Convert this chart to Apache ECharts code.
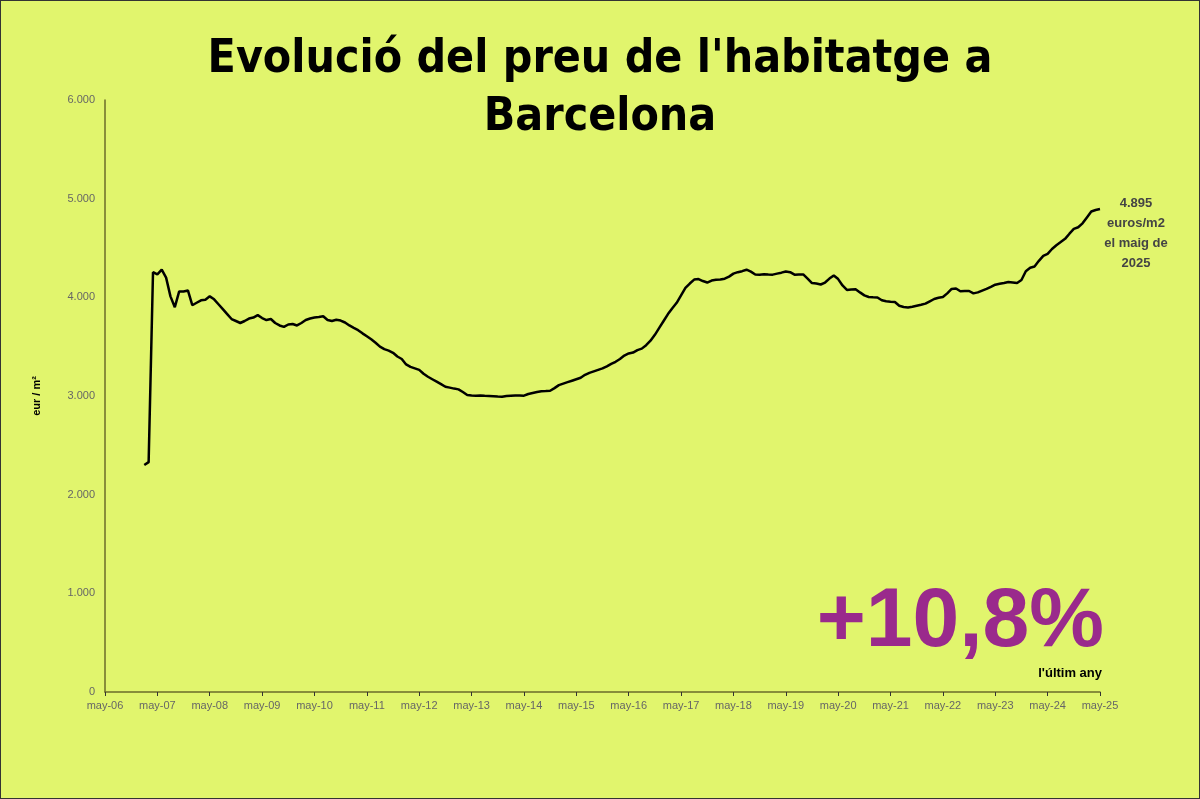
<!DOCTYPE html>
<html><head><meta charset="utf-8">
<script src="https://cdn.jsdelivr.net/npm/echarts@6/dist/echarts.min.js"></script>
<style>html,body{margin:0;padding:0;background:#e1f56d}#c{width:1200px;height:799px;box-sizing:border-box;border:1px solid #333}</style>
</head><body><div id="c"></div>
<script>
const months = [];
for (let y = 2006; y <= 2025; y++) {
  const yy = String(y).slice(2);
  ['jan','feb','mar','apr','may','jun','jul','aug','sep','oct','nov','dec'].forEach((m, i) => {
    if ((y === 2006 && i < 4) || (y === 2025 && i > 4)) return;
    months.push(m + '-' + yy);
  });
}
const prices = [null,null,null,null,null,null,null,null,null,
2300,2330,4255,4232,4280,4200,4010,3900,4060,4060,4070,3920,3945,3970,3975,4010,3980,3930,3880,3830,3780,
3760,3740,3760,3785,3795,3820,3790,3770,3780,3740,3715,3700,3725,3730,3715,3740,3770,3785,3795,3800,
3808,3770,3760,3772,3765,3745,3715,3690,3667,3635,3605,3575,3540,3500,3475,3460,3438,3400,3375,3320,
3295,3280,3265,3225,3195,3170,3145,3120,3094,3085,3075,3067,3040,3010,3005,3003,3005,3002,3000,2998,
2995,2993,3000,3003,3005,3005,3003,3020,3030,3040,3048,3050,3053,3080,3110,3125,3140,3155,3170,3185,
3215,3235,3250,3265,3280,3300,3325,3347,3375,3410,3431,3440,3465,3480,3515,3560,3620,3690,3760,3830,
3890,3945,4020,4095,4140,4180,4185,4165,4150,4170,4178,4180,4189,4210,4240,4255,4265,4280,4260,4232,
4230,4235,4232,4230,4240,4250,4262,4255,4230,4232,4232,4190,4145,4140,4130,4150,4190,4222,4185,4120,
4075,4080,4081,4050,4020,4003,4000,3998,3970,3960,3955,3953,3915,3902,3898,3905,3915,3925,3936,3960,
3983,3995,4003,4040,4085,4090,4062,4063,4064,4040,4050,4068,4085,4105,4128,4138,4145,4155,4150,4145,
4175,4265,4300,4313,4370,4420,4440,4490,4528,4560,4593,4645,4693,4710,4750,4810,4870,4885,4895];
const yTicks = ['0','1.000','2.000','3.000','4.000','5.000','6.000'];
const titleLines = ["Evolució del preu de l'habitatge a", 'Barcelona'];
const noteLines = ['4.895', 'euros/m2', 'el maig de', '2025'];
const chart = echarts.init(document.getElementById('c'));
chart.setOption({
  backgroundColor: '#e1f56d',
  animation: false,
  grid: {left: 104, right: 99, top: 99, bottom: 106},
  xAxis: {
    type: 'category', data: months, boundaryGap: false,
    axisLine: {lineStyle: {color: '#6b6b2a', width: 1.5}},
    axisTick: {interval: (i) => i % 12 === 0, lineStyle: {color: '#333'}, length: 4},
    axisLabel: {interval: (i) => i % 12 === 0, color: '#666', fontSize: 11, fontFamily: 'Liberation Sans', margin: 8}
  },
  yAxis: {
    type: 'value', min: 0, max: 6000, interval: 1000,
    axisLine: {show: true, lineStyle: {color: '#6b6b2a', width: 1.5}},
    splitLine: {show: false},
    axisLabel: {color: '#666', fontSize: 11, fontFamily: 'Liberation Sans', margin: 10,
      formatter: (v) => yTicks[Math.round(v / 1000)]}
  },
  series: [{type: 'line', data: prices, showSymbol: false, connectNulls: false,
    lineStyle: {color: '#000', width: 2.5}}],
  graphic: [
    {type: 'text', left: 'center', top: 30, style: {text: titleLines.join('\n'), x: 20, fill: '#000',
      font: 'bold 46px "Liberation Sans Narrow", "DejaVu Sans Condensed", sans-serif', textAlign: 'center', lineHeight: 58}},
    {type: 'text', x: 36, y: 395, rotation: Math.PI / 2, style: {text: 'eur / m²', fill: '#000',
      font: 'bold 11px "Liberation Sans"', textAlign: 'center', textVerticalAlign: 'middle'}},
    {type: 'text', x: 1135, y: 192, style: {text: noteLines.join('\n'), fill: '#444',
      font: 'bold 13px "Liberation Sans"', textAlign: 'center', lineHeight: 20}},
    {type: 'text', x: 1103, y: 580, style: {text: '+10,8%', fill: '#9a2a8c',
      font: 'bold 84px "Liberation Sans Narrow", "Liberation Sans"', textAlign: 'right'}},
    {type: 'text', x: 1101, y: 666, style: {text: "l'últim any", fill: '#000',
      font: 'bold 13px "Liberation Sans"', textAlign: 'right'}}
  ]
});
</script></body></html>
